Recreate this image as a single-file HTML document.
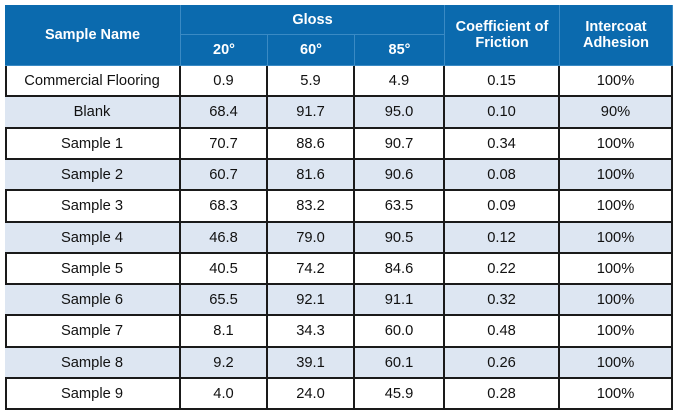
<!DOCTYPE html>
<html><head><meta charset="utf-8"><style>
body{margin:0;width:678px;height:413px;background:#fff;font-family:"Liberation Sans",Arial,sans-serif;position:relative;overflow:hidden}
.c{position:absolute;display:flex;align-items:center;justify-content:center;text-align:center;box-sizing:border-box;font-size:14.7px;color:#111}
.h{background:#0b6aae;color:#fff;font-weight:bold;font-size:14.5px;line-height:16px;border-right:1px solid #3a8ac4;border-bottom:1px solid #3a8ac4}
.d{border-right:2px solid #1a1a1a;border-bottom:2px solid #1a1a1a}
.alt{background:#dde6f2}
</style></head><body>
<div id="t" style="position:absolute;left:5px;top:5px;width:668px;height:405px;border-left:2px solid #1a1a1a;border-top:1px solid #3a8ac4;box-sizing:border-box"></div>
<script>
var cols=[5,181,268,355,445,560,673];
var top0=66,rh=31.3;
var names=["Commercial Flooring","Blank","Sample 1","Sample 2","Sample 3","Sample 4","Sample 5","Sample 6","Sample 7","Sample 8","Sample 9"];
var g20=["0.9","68.4","70.7","60.7","68.3","46.8","40.5","65.5","8.1","9.2","4.0"];
var g60=["5.9","91.7","88.6","81.6","83.2","79.0","74.2","92.1","34.3","39.1","24.0"];
var g85=["4.9","95.0","90.7","90.6","63.5","90.5","84.6","91.1","60.0","60.1","45.9"];
var cof=["0.15","0.10","0.34","0.08","0.09","0.12","0.22","0.32","0.48","0.26","0.28"];
var adh=["100%","90%","100%","100%","100%","100%","100%","100%","100%","100%","100%"];
function cell(x1,y1,x2,y2,txt,cls,name){
 var e=document.createElement('div');
 e.className='c '+cls;
 e.style.left=x1+'px';e.style.top=y1+'px';e.style.width=(x2-x1)+'px';e.style.height=(y2-y1)+'px';
 e.innerHTML=txt;
 
 
 document.body.appendChild(e);
}
cell(cols[0],5,cols[1],66,'Sample Name','h','header-sample-name');
cell(cols[1],5,cols[4],35,'Gloss','h','header-gloss');
cell(cols[1],35,cols[2],66,'20°','h','header-gloss-20');
cell(cols[2],35,cols[3],66,'60°','h','header-gloss-60');
cell(cols[3],35,cols[4],66,'85°','h','header-gloss-85');
cell(cols[4],5,cols[5],66,'Coefficient of<br>Friction','h','header-friction');
cell(cols[5],5,cols[6],66,'Intercoat<br>Adhesion','h','header-adhesion');
var data=[names,g20,g60,g85,cof,adh];
var cn=['sample-name','gloss-20','gloss-60','gloss-85','friction','adhesion'];
for(var r=0;r<names.length;r++){
 var y1=Math.round(top0+r*rh),y2=Math.round(top0+(r+1)*rh);
 for(var c=0;c<6;c++){
  cell(cols[c],y1,cols[c+1],y2,data[c][r],'d'+(r%2?' alt':''),cn[c]+'-cell');
 }
}
</script>
</body></html>
